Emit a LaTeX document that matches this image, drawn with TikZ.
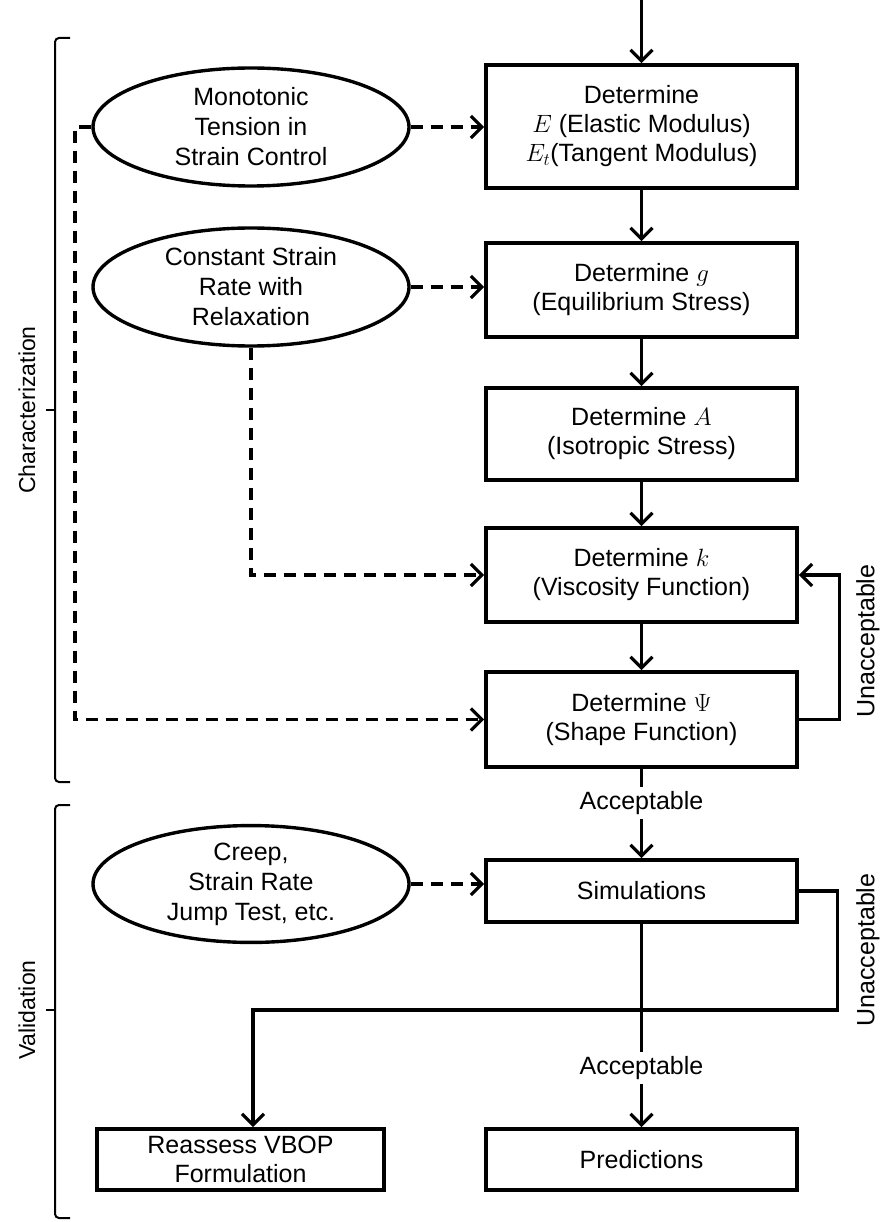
\documentclass[tikz,border=0pt]{standalone}
\usepackage{fix-cm}
\usepackage{fontspec}
\setmainfont{Liberation Sans}
\usetikzlibrary{arrows.meta, shapes.geometric}
\tikzset{
    stepbox/.style = {draw, line width = 3.6pt, minimum width = 311pt, inner sep = 2pt, align = center, font = \fontsize{25}{29}\selectfont},
    testnode/.style = {draw, ellipse, line width = 3.4pt, minimum width = 316pt, minimum height = 118pt, inner sep = 0pt, align = center, font = \fontsize{25}{30}\selectfont},
    flow/.style = {line width = 3.3pt, -{Straight Barb[length = 11pt, width = 22pt]}},
    dflow/.style = {flow, dash pattern = on 12pt off 8pt},
    bracket/.style = {line width = 2pt, rounded corners = 4pt},
    verdict/.style = {font = \fontsize{25}{29}\selectfont, inner sep = 4pt},
    phase/.style = {font = \fontsize{23}{27}\selectfont, rotate = 90, inner sep = 0pt}
}
\begin{document}
\begin{tikzpicture}[x = 1pt, y = -1pt]
        \useasboundingbox (0, 0) rectangle (885, 1222);
        \coordinate (start) at (641.5, 0);
        \coordinate (lane) at (75, 0);
        \coordinate (turn) at (253, 1010);
        \node[stepbox, minimum height = 123pt] (boxE) at (641.5, 126.5) {Determine\\ $E$ (Elastic Modulus)\\ $E_t$(Tangent Modulus)};
        \node[stepbox, minimum height = 94pt] (boxG) at (641.5, 290) {Determine $g$\\ (Equilibrium Stress)};
        \node[stepbox, minimum height = 92pt] (boxA) at (641.5, 434) {Determine $A$\\ (Isotropic Stress)};
        \node[stepbox, minimum height = 94pt] (boxK) at (641.5, 575) {Determine $k$\\ (Viscosity Function)};
        \node[stepbox, minimum height = 95pt] (boxPsi) at (641.5, 719.5) {Determine $\Psi$\\ (Shape Function)};
        \node[stepbox, minimum height = 62pt] (sim) at (641.5, 891) {Simulations};
        \node[stepbox, minimum height = 61pt] (pred) at (641.5, 1159.5) {Predictions};
        \node[stepbox, minimum width = 287pt, minimum height = 61pt] (reassess) at (240.5, 1159.5) {Reassess VBOP\\ Formulation};
        \node[testnode] (tension) at (251, 127) {Monotonic\\ Tension in\\ Strain Control};
        \node[testnode] (relax) at (251, 287) {Constant Strain\\ Rate with\\ Relaxation};
        \node[testnode, minimum height = 110pt] (creep) at (251, 884) {Creep,\\ Strain Rate\\ Jump Test, etc.};
        \node[verdict] (acc1) at (641.5, 803) {Acceptable};
        \node[verdict] (acc2) at (641.5, 1068) {Acceptable};
        \node[verdict, rotate = 90] (unacc1) at (868, 641) {Unacceptable};
        \node[verdict, rotate = 90] (unacc2) at (868, 950) {Unacceptable};
        \draw[flow] (start) -- (boxE.north);
        \draw[flow] (boxE) -- (boxG);
        \draw[flow] (boxG) -- (boxA);
        \draw[flow] (boxA) -- (boxK);
        \draw[flow] (boxK) -- (boxPsi);
        \draw[line width = 3.3pt] (boxPsi.south) -- (acc1.north);
        \draw[flow] (acc1.south) -- (sim.north);
        \draw[line width = 3.3pt] (sim.south) -- (acc2.north);
        \draw[flow] (acc2.south) -- (pred.north);
        \draw[flow] (boxPsi.east) -- ++(41, 0) |- (boxK.east);
        \draw[flow] (sim.east) -- ++(39, 0) |- (turn) -- (turn |- reassess.north);
        \draw[dflow] (tension.east) -- (tension.east -| boxE.west);
        \draw[dflow] (relax.east) -- (relax.east -| boxG.west);
        \draw[dflow] (creep.east) -- (creep.east -| sim.west);
        \draw[dflow] (relax.south) |- (boxK.west);
        \draw[dflow] (tension.west) -- (tension.west -| lane) |- (boxPsi.west);
        \draw[bracket] (70, 38) -- (55, 38) -- (55, 782) -- (70, 782);
        \draw[line width = 2pt] (55, 410) -- (46, 410);
        \node[phase] (charac) at (27, 410) {Characterization};
        \draw[bracket] (70, 805) -- (55, 805) -- (55, 1218) -- (70, 1218);
        \draw[line width = 2pt] (55, 1010) -- (46, 1010);
        \node[phase] (valid) at (27, 1010) {Validation};
    \end{tikzpicture}
\end{document}
